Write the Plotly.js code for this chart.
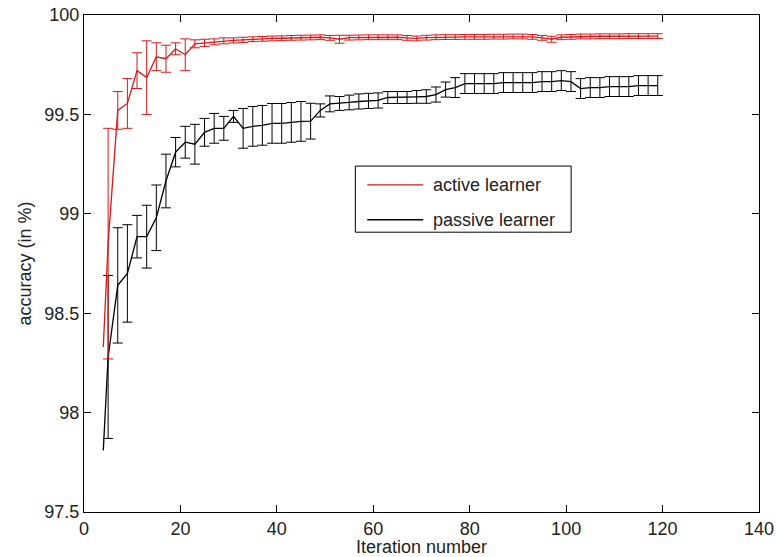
<!DOCTYPE html>
<html><head><meta charset="utf-8">
<script src="https://cdn.plot.ly/plotly-3.0.1.min.js"></script>
<style>html,body{margin:0;padding:0;background:#fff}#chart{width:776px;height:557px}</style>
</head><body><div id="chart"></div>
<script>
// Iterations where error bars are drawn
const barIterations = [5,7,9,11,13,15,17,19,21,23,25,27,29,31,33,35,37,39,41,43,45,47,49,51,53,55,57,59,61,63,65,67,69,71,73,75,77,79,81,83,85,87,89,91,93,95,97,99,101,103,105,107,109,111,113,115,117,119];
const startIteration = 4;
const activeStart = 98.33;
const passiveStart = 97.81;

const activeMean = [98.85,99.52,99.555,99.72,99.685,99.79,99.78,99.83,99.80,99.855,99.86,99.865,99.87,99.872,99.875,99.878,99.88,99.882,99.883,99.885,99.886,99.887,99.888,99.885,99.878,99.886,99.887,99.888,99.888,99.888,99.888,99.885,99.882,99.886,99.888,99.889,99.889,99.89,99.89,99.89,99.891,99.891,99.892,99.892,99.89,99.885,99.878,99.888,99.89,99.892,99.892,99.893,99.893,99.893,99.894,99.894,99.894,99.894];
const activeErr = [0.58,0.095,0.125,0.09,0.185,0.07,0.068,0.03,0.08,0.02,0.018,0.015,0.015,0.013,0.013,0.012,0.012,0.012,0.012,0.012,0.012,0.012,0.012,0.012,0.02,0.012,0.012,0.012,0.012,0.012,0.012,0.012,0.012,0.012,0.012,0.012,0.012,0.012,0.012,0.012,0.012,0.012,0.012,0.012,0.012,0.012,0.015,0.012,0.012,0.012,0.012,0.012,0.012,0.012,0.012,0.012,0.012,0.012];

const passiveMean = [98.28,98.64,98.70,98.885,98.885,98.98,99.165,99.31,99.36,99.35,99.41,99.43,99.43,99.49,99.43,99.44,99.445,99.455,99.455,99.46,99.465,99.466,99.52,99.553,99.555,99.56,99.565,99.568,99.57,99.585,99.585,99.585,99.588,99.59,99.60,99.625,99.635,99.655,99.655,99.655,99.655,99.66,99.66,99.66,99.66,99.665,99.665,99.67,99.665,99.63,99.635,99.635,99.64,99.64,99.64,99.645,99.645,99.645];
const passiveErr = [0.41,0.29,0.245,0.107,0.158,0.165,0.135,0.074,0.08,0.10,0.07,0.075,0.06,0.03,0.10,0.10,0.10,0.10,0.10,0.10,0.10,0.09,0.033,0.04,0.035,0.037,0.038,0.038,0.038,0.03,0.03,0.03,0.032,0.034,0.038,0.038,0.05,0.05,0.05,0.05,0.05,0.05,0.05,0.05,0.05,0.05,0.05,0.05,0.05,0.05,0.05,0.05,0.05,0.05,0.05,0.05,0.05,0.05];

const seriesNames = ['active learner','passive learner'];
const xTicks = [0,20,40,60,80,100,120,140];
const yTicks = [97.5,98,98.5,99,99.5,100];

const RED = 'rgb(215,25,25)';
const BLACK = '#000';
const FONT = {family:'"Liberation Sans", Arial, sans-serif', size:18, color:'#222'};

function lineTrace(start, mean, color){
  return {x:[startIteration].concat(barIterations), y:[start].concat(mean), type:'scatter', mode:'lines',
    line:{color:color, width:1.3}, showlegend:false, hoverinfo:'skip'};
}
function barTrace(mean, err, color){
  return {x:barIterations, y:mean, type:'scatter', mode:'markers', marker:{size:2, opacity:0, color:color},
    error_y:{type:'data', array:err, visible:true, color:color, thickness:1, width:5}, showlegend:false, hoverinfo:'skip'};
}

const data = [
  barTrace(passiveMean, passiveErr, BLACK),
  lineTrace(passiveStart, passiveMean, BLACK),
  barTrace(activeMean, activeErr, RED),
  lineTrace(activeStart, activeMean, RED)
];

const axisCommon = {showgrid:false, zeroline:false, showline:true, linecolor:'#000', linewidth:1,
  mirror:'ticks', ticks:'inside', ticklen:7, tickcolor:'#000', tickfont:FONT};

const layout = {
  width:776, height:557,
  margin:{l:84, r:17, t:15, b:45},
  paper_bgcolor:'#fff', plot_bgcolor:'#fff',
  font:FONT,
  showlegend:false,
  xaxis:Object.assign({}, axisCommon, {range:[0,140], tickvals:xTicks, ticktext:xTicks.map(String),
    title:{text:'Iteration number', font:FONT, standoff:2}}),
  yaxis:Object.assign({}, axisCommon, {range:[97.5,100], tickvals:yTicks, ticktext:yTicks.map(String),
    title:{text:'accuracy (in %)', font:FONT, standoff:8}}),
  shapes:[
    {type:'rect', xref:'paper', yref:'paper', x0:0.402, x1:0.7217, y0:0.563, y1:0.696,
      line:{color:'#000', width:1}, fillcolor:'#fff', layer:'above'},
    {type:'line', xref:'paper', yref:'paper', x0:0.4197, x1:0.5026, y0:0.658, y1:0.658,
      line:{color:RED, width:1.3}, layer:'above'},
    {type:'line', xref:'paper', yref:'paper', x0:0.4197, x1:0.5026, y0:0.588, y1:0.588,
      line:{color:BLACK, width:1.3}, layer:'above'}
  ],
  annotations:[
    {xref:'paper', yref:'paper', x:0.514, y:0.658, xanchor:'left', yanchor:'middle', text:seriesNames[0], showarrow:false, font:FONT},
    {xref:'paper', yref:'paper', x:0.514, y:0.588, xanchor:'left', yanchor:'middle', text:seriesNames[1], showarrow:false, font:FONT}
  ]
};

Plotly.newPlot('chart', data, layout, {staticPlot:true, displayModeBar:false});
</script>
</body></html>
